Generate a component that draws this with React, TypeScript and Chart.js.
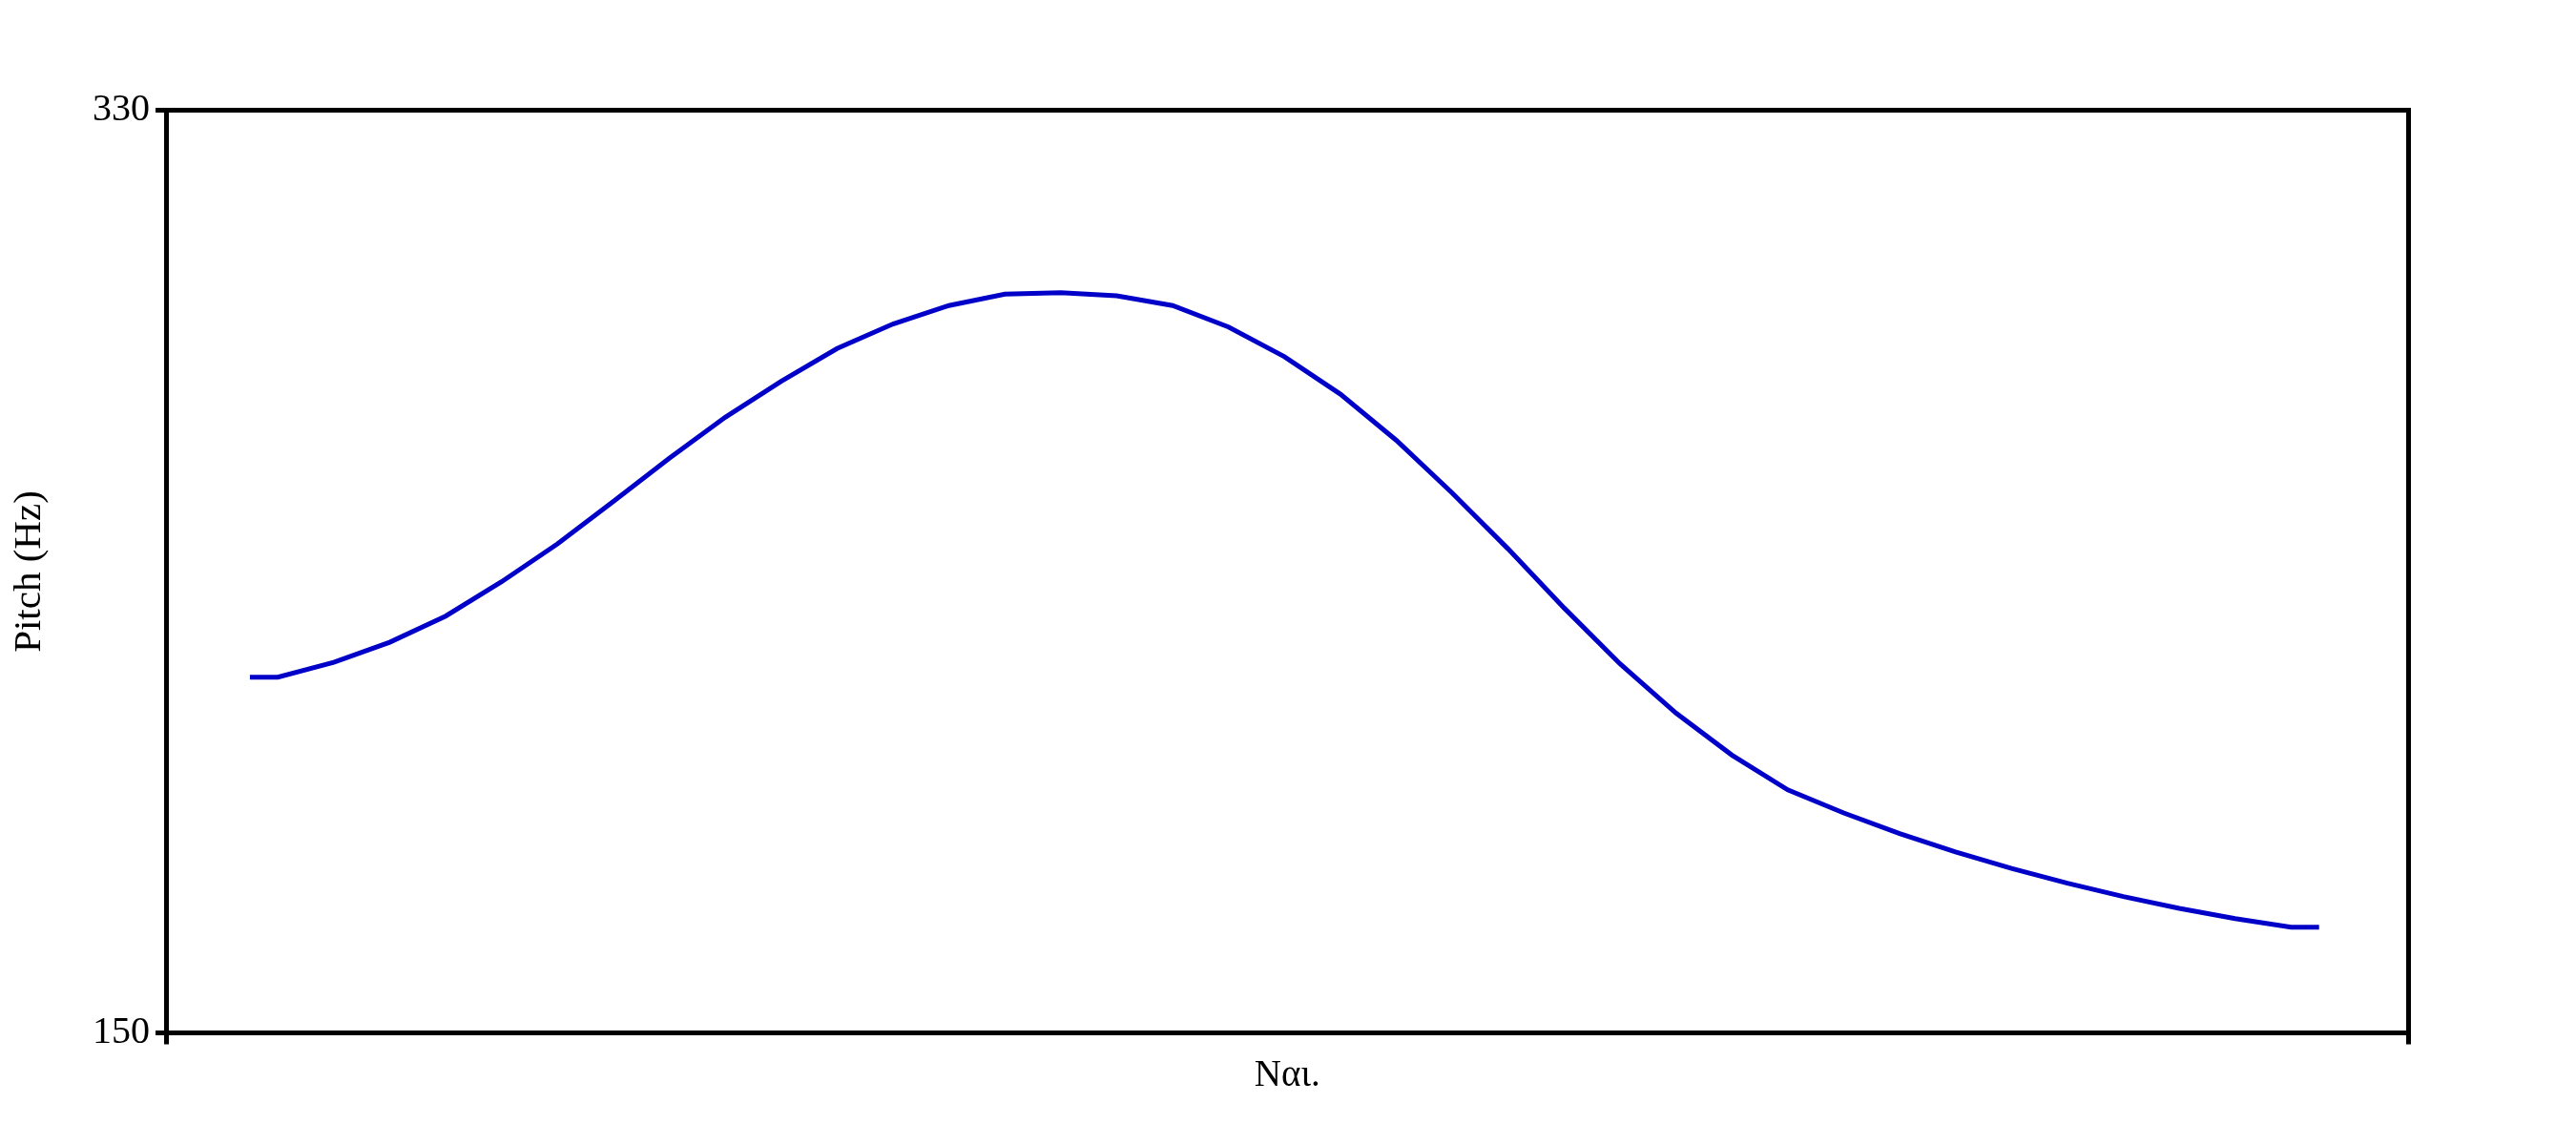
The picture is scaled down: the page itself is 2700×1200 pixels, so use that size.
import { useEffect, useRef } from 'react';
import { Chart, registerables } from 'chart.js';

Chart.register(...registerables);

// time positions (s) of the pitch samples
const times = [
  0.015, 0.02, 0.03, 0.04, 0.05, 0.06, 0.07, 0.08, 0.09, 0.1, 0.11, 0.12, 0.13,
  0.14, 0.15, 0.16, 0.17, 0.18, 0.19, 0.2, 0.21, 0.22, 0.23, 0.24, 0.25, 0.26,
  0.27, 0.28, 0.29, 0.3, 0.31, 0.32, 0.33, 0.34, 0.35, 0.36, 0.37, 0.38, 0.385,
];
// pitch values (Hz)
const pitchHz = [
  219.4, 219.4, 222.3, 226.2, 231.3, 238.0, 245.4, 253.7, 262.1, 270.1, 277.1,
  283.5, 288.3, 291.9, 294.1, 294.4, 293.8, 291.9, 287.7, 281.9, 274.6, 265.6,
  255.3, 244.4, 232.9, 222.0, 212.4, 204.2, 197.4, 192.9, 188.9, 185.3, 182.1,
  179.2, 176.6, 174.3, 172.3, 170.6, 170.6,
];
const yTickValues = [150, 330];
const xRange = [0, 0.401];
const xTitle = 'Nαι.';
const yTitle = 'Pitch (Hz)';

const FONT = "'Liberation Serif', 'Times New Roman', serif";

export default function App() {
  const ref = useRef<HTMLCanvasElement | null>(null);

  useEffect(() => {
    document.body.style.margin = '0';
    const canvas = ref.current;
    if (!canvas) return;

    const framePlugin = {
      id: 'frame',
      afterDraw(chart: any) {
        const { ctx, chartArea } = chart;
        const { left, top, right, bottom } = chartArea;
        ctx.save();
        ctx.strokeStyle = '#000';
        ctx.lineWidth = 5;
        ctx.lineCap = 'square';
        ctx.beginPath();
        ctx.moveTo(left, top);
        ctx.lineTo(right, top);
        ctx.lineTo(right, bottom);
        ctx.stroke();
        ctx.restore();
      },
    };

    const chart = new Chart(canvas, {
      type: 'line',
      data: {
        datasets: [
          {
            data: times.map((t, i) => ({ x: t, y: pitchHz[i] })),
            borderColor: '#0000c8',
            borderWidth: 5,
            pointRadius: 0,
            tension: 0,
            fill: false,
          },
        ],
      },
      options: {
        animation: false,
        responsive: false,
        maintainAspectRatio: false,
        layout: { padding: { top: 115.5, right: 175.5, left: 0, bottom: 0 } },
        plugins: { legend: { display: false }, tooltip: { enabled: false } },
        scales: {
          x: {
            type: 'linear',
            min: xRange[0],
            max: xRange[1],
            afterBuildTicks: (s: any) => {
              s.ticks = [{ value: xRange[0] }, { value: xRange[1] }];
            },
            afterFit: (s: any) => {
              s.height = 117.5;
            },
            ticks: { display: false },
            grid: {
              drawOnChartArea: false,
              drawTicks: true,
              tickLength: 12,
              lineWidth: 5,
              color: '#000',
            },
            border: { display: true, width: 5, color: '#000' },
            title: {
              display: true,
              text: xTitle,
              color: '#000',
              font: { family: FONT, size: 39 },
              padding: { top: 0, bottom: 49 },
            },
          },
          y: {
            min: yTickValues[0],
            max: yTickValues[1],
            afterBuildTicks: (s: any) => {
              s.ticks = yTickValues.map((v) => ({ value: v }));
            },
            afterFit: (s: any) => {
              s.width = 174;
            },
            ticks: {
              color: '#000',
              font: { family: FONT, size: 40 },
              padding: 6,
            },
            grid: {
              drawOnChartArea: false,
              drawTicks: true,
              tickLength: 11,
              lineWidth: 5,
              color: '#000',
            },
            border: { display: true, width: 5, color: '#000' },
            title: {
              display: true,
              text: yTitle,
              color: '#000',
              font: { family: FONT, size: 41 },
              padding: { top: 7, bottom: 0 },
            },
          },
        },
      },
      plugins: [framePlugin],
    });

    return () => chart.destroy();
  }, []);

  return (
    <div style={{ width: 2700, height: 1200, background: '#fff' }}>
      <canvas ref={ref} width={2700} height={1200} style={{ display: 'block' }} />
    </div>
  );
}
